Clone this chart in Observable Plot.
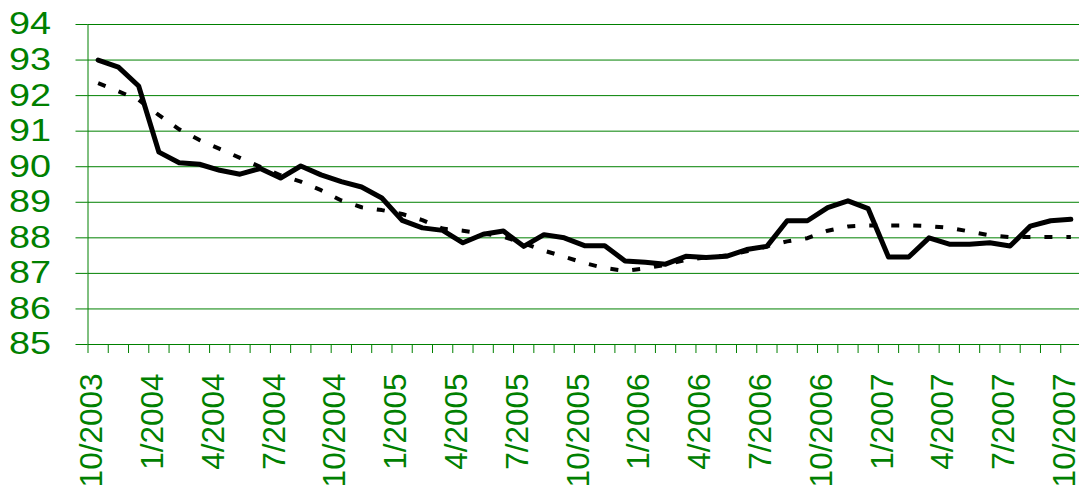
<!DOCTYPE html>
<html>
<head>
<meta charset="utf-8">
<script src="https://cdn.jsdelivr.net/npm/d3@7"></script>
<script src="https://cdn.jsdelivr.net/npm/@observablehq/plot@0.6"></script>
<style>
  html, body { margin: 0; padding: 0; background: #ffffff; }
  #chart { width: 1079px; height: 488px; overflow: hidden; }
</style>
</head>
<body>
<div id="chart"></div>
<script>
// Month categories (tick labels)
const months = [
  "10/2003","11/2003","12/2003",
  "1/2004","2/2004","3/2004","4/2004","5/2004","6/2004","7/2004","8/2004","9/2004","10/2004","11/2004","12/2004",
  "1/2005","2/2005","3/2005","4/2005","5/2005","6/2005","7/2005","8/2005","9/2005","10/2005","11/2005","12/2005",
  "1/2006","2/2006","3/2006","4/2006","5/2006","6/2006","7/2006","8/2006","9/2006","10/2006","11/2006","12/2006",
  "1/2007","2/2007","3/2007","4/2007","5/2007","6/2007","7/2007","8/2007","9/2007","10/2007"
];

// Solid series
const actual = [
  93.0, 92.8, 92.27, 90.41, 90.11, 90.07, 89.9, 89.79, 89.95, 89.68,
  90.02, 89.77, 89.58, 89.43, 89.12, 88.49, 88.28, 88.21, 87.86, 88.1,
  88.19, 87.76, 88.09, 88.0, 87.78, 87.78, 87.35, 87.31, 87.26, 87.48,
  87.45, 87.48, 87.67, 87.76, 88.48, 88.48, 88.85, 89.04, 88.82, 87.46,
  87.46, 88.0, 87.82, 87.82, 87.86, 87.77, 88.33, 88.48, 88.52
];

// Dotted trend series
const trend = [
  92.35, 92.12, 91.88, 91.45, 91.05, 90.75, 90.5, 90.25, 90.0, 89.76,
  89.58, 89.34, 89.05, 88.86, 88.78, 88.67, 88.5, 88.26, 88.2, 88.12,
  88.03, 87.85, 87.64, 87.47, 87.29, 87.15, 87.07, 87.14, 87.24, 87.38,
  87.45, 87.5, 87.62, 87.76, 87.9, 87.99, 88.2, 88.32, 88.35, 88.35,
  88.35, 88.33, 88.28, 88.18, 88.07, 88.02, 88.02, 88.02, 88.02
];

// Y tick values
const yTicks = [85, 86, 87, 88, 89, 90, 91, 92, 93, 94];
// Labelled x ticks (every third month)
const xLabelTicks = months.filter((d, i) => i % 3 === 0);

const actualData = months.map((m, i) => ({month: m, value: actual[i]}));
const trendData = months.map((m, i) => ({month: m, value: trend[i]}));

const green = "#008000";
const x0 = 87.5, x1 = 1080.5;
const bw = (x1 - x0) / months.length;

const chart = Plot.plot({
  width: 1079,
  height: 488,
  marginTop: 24,
  marginBottom: 144,
  marginLeft: 87.5,
  marginRight: 0,
  style: {fontFamily: "'Liberation Sans', Arial, sans-serif", background: "#ffffff", overflow: "hidden"},
  x: {type: "band", domain: months, range: [x0, x1], padding: 0, round: false, axis: null, label: null},
  y: {domain: [85, 94], axis: null, label: null},
  marks: [
    Plot.gridY(yTicks, {stroke: green, strokeOpacity: 1, strokeWidth: 1}),
    Plot.axisY(yTicks, {tickSize: 12, tickPadding: 25, fontSize: 31, color: green, strokeOpacity: 1, label: null}),
    Plot.axisX(months, {tickSize: 9, tickFormat: () => "", dx: -bw / 2, color: green, strokeOpacity: 1, label: null}),
    Plot.axisX(xLabelTicks, {tickSize: 0, tickPadding: 29, tickRotate: -90, fontSize: 31.5, color: green, dx: -6, label: null}),
    Plot.ruleX([months[0]], {y1: 85, y2: 94, dx: -bw / 2, stroke: green, strokeWidth: 1}),
    Plot.line(trendData, {x: "month", y: "value", stroke: "#000000", strokeWidth: 4, strokeDasharray: "8,14", strokeLinecap: "butt"}),
    Plot.line(actualData, {x: "month", y: "value", stroke: "#000000", strokeWidth: 5, strokeLinejoin: "round", strokeLinecap: "round"})
  ]
});

// Widen y tick labels horizontally, anchored at their right edge
d3.select(chart).selectAll('g[aria-label="y-axis tick label"] text').each(function() {
  const t = this.getAttribute("transform") || "";
  this.setAttribute("transform", t + " scale(1.22,1)");
});

document.getElementById("chart").appendChild(chart);
</script>
</body>
</html>
